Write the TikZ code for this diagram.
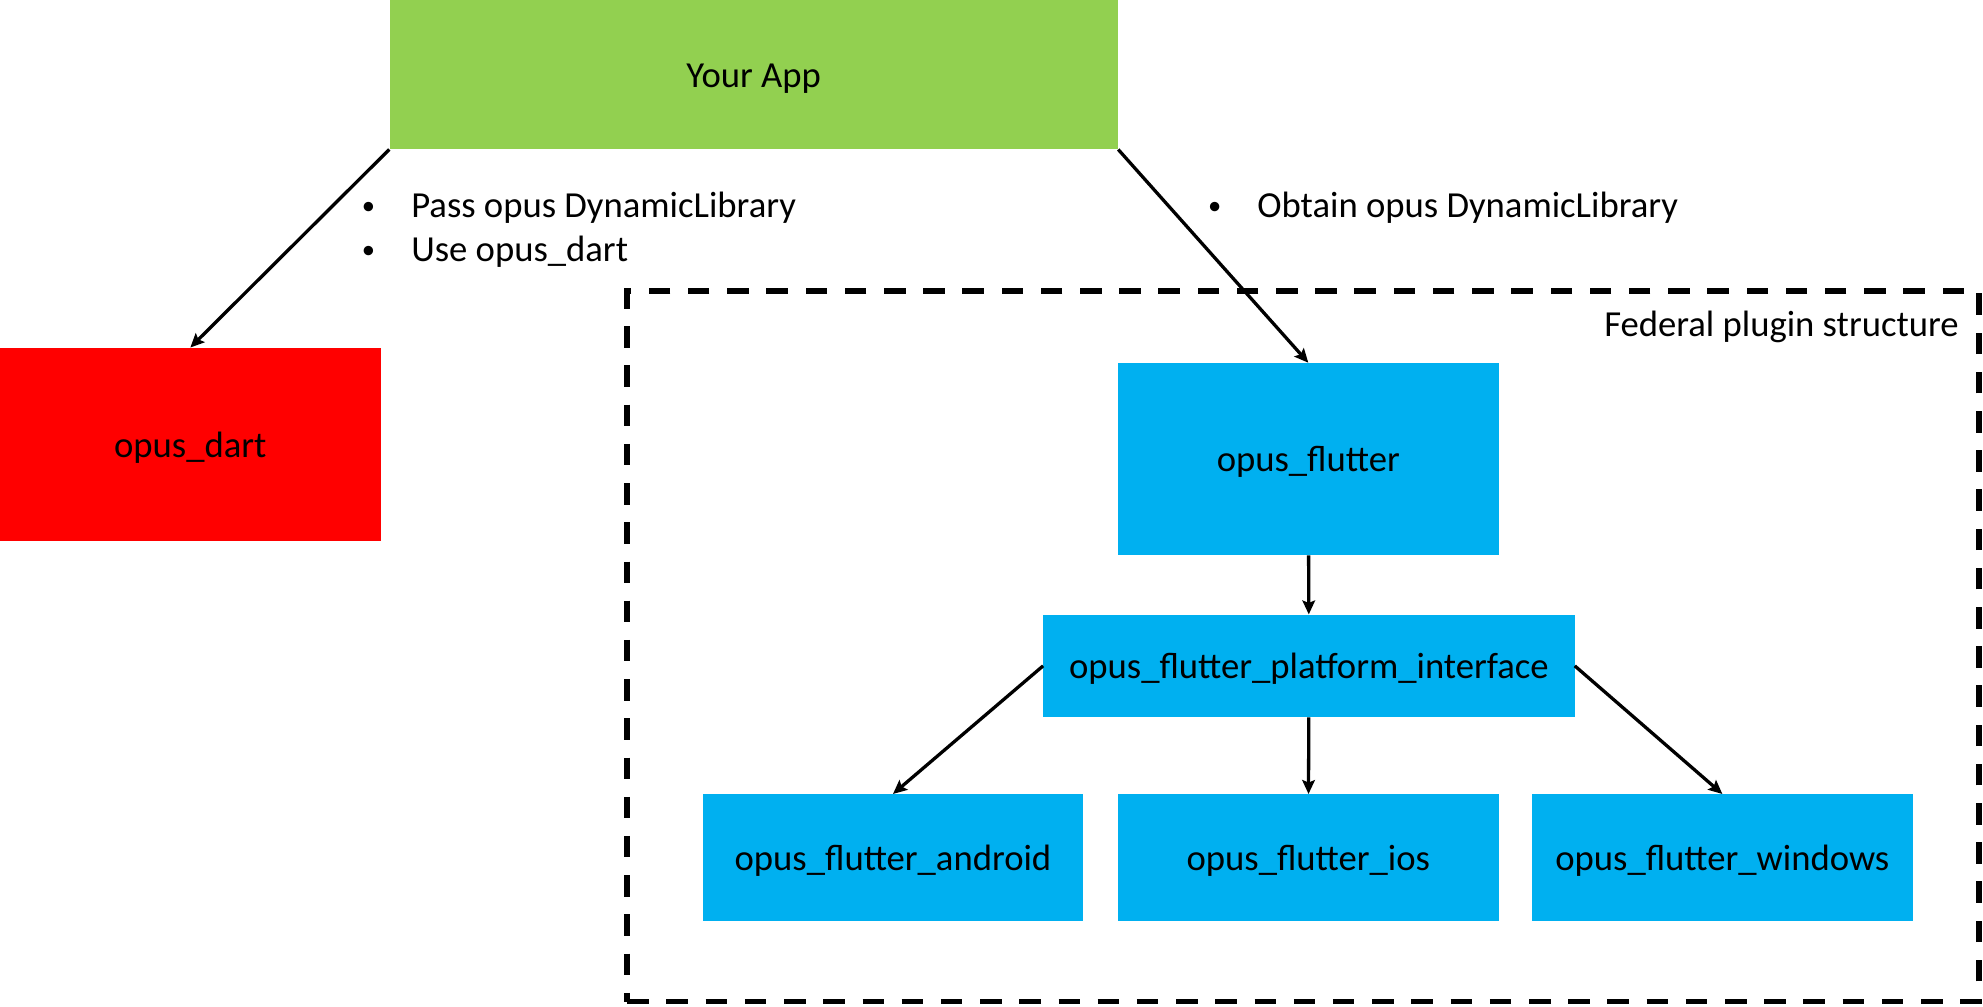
\documentclass[tikz,border=0pt]{standalone}
\usepackage{fontspec}
\setmainfont{Carlito}
\usepackage{xcolor}
\usepackage{tikz}
\usetikzlibrary{shapes,arrows.meta,positioning}
\definecolor{appgreen}{HTML}{92D050}
\definecolor{dartred}{HTML}{FF0000}
\definecolor{flutterblue}{HTML}{00B0F0}
\tikzset{
  box/.style = {rectangle, inner sep=0pt, text centered, text height=23pt, text depth=3pt, font=\fontsize{29}{35}\selectfont},
  app_n/.style = {box, fill=appgreen, minimum width=576pt, minimum height=118pt},
  dart_n/.style = {box, fill=dartred, minimum width=301pt, minimum height=153pt},
  pkg_n/.style = {box, fill=flutterblue, minimum width=301pt, minimum height=100pt},
  fed_n/.style = {draw=black, line width=4.5pt, dash pattern=on 17pt off 14pt, inner sep=0pt, minimum width=1069pt, minimum height=562pt},
  note/.style = {inner sep=0pt, font=\fontsize{29}{35}\selectfont},
  arr/.style = {-{Stealth[length=11pt,width=10pt,inset=2pt]}, line width=2.6pt}
}
\newcommand{\bul}{\makebox[40pt][l]{\hspace{1pt}\raisebox{2.5pt}{\fontsize{21}{21}\selectfont\textbullet}}}

\begin{document}
\begin{tikzpicture}[x=1pt,y=-1pt]
	\useasboundingbox (0,0) rectangle (1568,795.5);
	% federal plugin frame
	\node [fed_n] (fed) at (1030.5,511) {};
	\node [note, anchor=base east] (fedlabel) at (1549,266) {Federal plugin structure};
	% packages
	\node [app_n] (app) at (596,59) {Your App};
	\node [dart_n] (dart) at (150.5,351.5) {opus\_dart};
	\node [pkg_n, minimum height=152pt] (flutter) at (1034.5,363) {opus\_flutter};
	\node [pkg_n, minimum width=420pt, minimum height=81pt] (iface) at (1035,526.5) {opus\_flutter\_platform\_interface};
	\node [pkg_n] (ios) at (1034.5,678) {opus\_flutter\_ios};
	\node [pkg_n, left=27pt of ios] (android) {opus\_flutter\_android};
	\node [pkg_n, right=26pt of ios] (windows) {opus\_flutter\_windows};
	% notes
	\node [note, anchor=base west] (passnote) at (285,172) {\bul Pass opus DynamicLibrary};
	\node [note, anchor=base west] (usenote) at (285,207) {\bul Use opus\_dart};
	\node [note, anchor=base west] (obtainnote) at (954,172) {\bul Obtain opus DynamicLibrary};
	% connectors
	\draw [arr] (app.south west) -- (dart.north);
	\draw [arr] (app.south east) -- (flutter.north);
	\draw [arr] (flutter) -- (iface);
	\draw [arr] (iface.west) -- (android.north);
	\draw [arr] (iface) -- (ios);
	\draw [arr] (iface.east) -- (windows.north);
\end{tikzpicture}
\end{document}
